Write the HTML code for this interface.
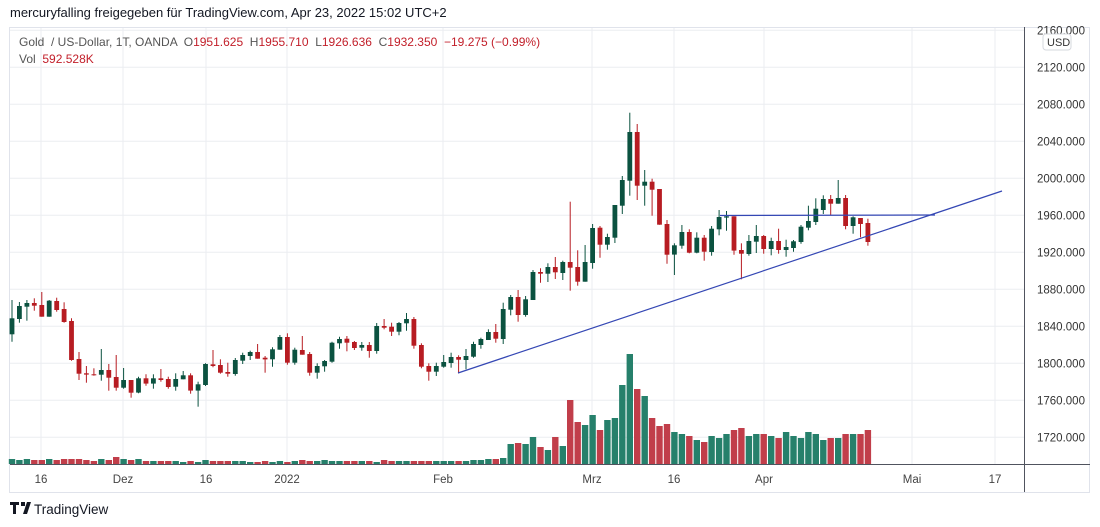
<!DOCTYPE html>
<html><head><meta charset="utf-8">
<style>
body{margin:0;background:#fff;width:1100px;height:527px;overflow:hidden;font-family:"Liberation Sans",sans-serif;}
svg{position:absolute;left:0;top:0}
text{white-space:pre}
</style></head><body>
<svg id="s" width="1100" height="527" xmlns="http://www.w3.org/2000/svg" font-family="Liberation Sans, sans-serif"></svg>
<script>
const S=document.getElementById('s');let h='';
h+='<rect x="9.5" y="27.5" width="1080" height="465" fill="none" stroke="#e0e3eb"/>';
const gx=[41,123,206,287,443,592,674,764,912,995];
gx.forEach(x=>h+=`<line x1="${x}" y1="28" x2="${x}" y2="464" stroke="#ebedf1"/>`);
const prices=[2160,2120,2080,2040,2000,1960,1920,1880,1840,1800,1760,1720];
prices.forEach((p,i)=>{const y=30.3+i*37;h+=`<line x1="10" y1="${y}" x2="1024" y2="${y}" stroke="#ebedf1"/>`;
h+=`<text x="1037" y="${y+4}" font-size="11.5" fill="#333">${p}.000</text>`;});
h+='<rect x="1043" y="34" width="28" height="16" rx="3" fill="#fff" stroke="#d6d8de"/><text x="1047" y="46" font-size="11" fill="#333">USD</text>';
const z1=[[115,163,60,185,1],[78,117,66,128,1],[69,80,60,122,1],[69,77,55,92,0],[75,110,36,110,0],[62,110,60,110,1],[63,90,53,95,0],[87,126,67,128,0],[123,240,115,242,0],[237,281,216,300,0],[280,284,258,308,0],[283,285,265,287,0],[270,284,207,302,1],[270,293,252,332,0],[291,323,225,332,0],[300,323,264,326,1],[300,338,300,353,0],[295,338,290,340,1],[295,311,283,317,0],[295,311,283,326,1],[295,300,267,305,0],[297,321,290,326,0],[297,320,280,332,1],[286,298,273,298,1],[286,332,280,341,0],[313,332,305,380,1],[252,315,250,318,1],[253,258,210,262,0],[255,278,238,281,0],[276,281,248,290,0],[240,282,234,287,1],[225,242,218,252,1],[216,228,212,240,1],[216,236,192,236,0],[233,238,228,278,0],[208,238,202,260,1],[171,209,165,209,1],[171,248,160,254,0],[209,248,203,254,1],[210,224,168,224,0],[222,278,216,287,0],[258,278,250,296,1],[243,259,240,275,1],[188,245,185,248,1],[177,190,170,206,1],[176,188,168,214,0],[186,204,183,210,0],[195,203,186,212,1],[195,213,186,233,0],[138,213,129,221,1],[138,143,117,148,0],[140,155,128,168,0],[129,155,126,166,1],[117,130,99,152,1],[117,197,111,206,0]];
const z2=[[735,800,730,805,0],[798,815,790,842,0],[798,815,788,828,1],[786,800,765,803,1],[771,789,758,803,1],[771,779,766,820,0],[768,780,747,808,1],[732,770,725,773,1],[717,735,713,746,1],[696,720,688,720,1],[696,716,672,728,0],[627,717,608,732,1],[591,629,585,646,1],[591,645,570,665,0],[598,645,588,650,1],[516,600,510,600,1],[516,521,505,548,0],[501,521,490,546,1],[501,517,471,537,0],[486,519,482,540,1],[486,503,305,572,0],[501,545,451,557,0],[486,545,435,545,1],[384,489,372,506,1],[383,434,378,473,0],[411,434,401,449,1],[315,413,315,429,1],[240,317,228,342,1],[96,242,38,287,1],[96,257,72,300,0],[245,257,210,317,1],[245,269,236,347,0],[267,374,267,374,0],[372,464,360,491,0],[436,464,430,525,1],[396,437,375,446,1],[396,458,388,460,0],[413,458,397,460,1],[413,455,405,482,0],[386,456,378,467,1],[351,388,330,406,1],[349,353,333,392,1],[349,452,349,464,0],[450,461,430,538,0],[423,462,405,467,1],[408,425,375,459,1],[408,447,405,461,0],[423,447,413,466,1],[423,450,386,461,0],[441,450,419,470,1],[424,444,420,455,1],[380,426,375,431,1],[363,383,317,391,1],[326,366,295,375,1],[297,330,286,342,1],[297,311,285,345,0],[294,311,240,311,1],[294,378,285,388,0],[352,378,349,401,1],[354,372,354,412,0],[369,426,356,437,0]];
const C=[];z1.forEach(c=>C.push([280+c[0]/3,280+c[1]/3,280+c[2]/3,280+c[3]/3,c[4]]));
z2.forEach(c=>C.push([100+c[0]/3,100+c[1]/3,100+c[2]/3,100+c[3]/3,c[4]]));
const vl=[[510,444],[518,443],[525,444],[532,437],[540,447],[547,450],[555,437],[562,446],[569,400],[577,422],[584,425],[591,415],[599,430],[606,420],[614,418],[621,385],[629,354],[636,389],[644,396],[651,418],[659,426],[666,424],[674,432],[681,434],[689,436],[696,440],[704,442],[711,436],[719,438],[726,434],[733,430],[741,428],[748,436],[756,434],[763,434],[770,436],[778,438],[785,432],[793,436],[800,438],[808,432],[815,434],[822,440],[830,438],[837,438],[845,434],[852,434],[860,434],[868,430]];
const V={};vl.forEach(v=>{V[Math.round((v[0]-12)/7.443)]=v[1];});
const early=[459,460,459,460,460,459,460,459,459,459,460,461,459,460,457,459,460,459,461,461,461,461,461,462,461,462,460,461,461,461,461,461,462,462,461,462,461,462,461,460,461,461,460,461,461,461,461,461,461,462,460,461,461,461,461,461,461,461,461,461,461,461,460,460,459,459];
let vh='',ch='';
C.forEach((c,i)=>{const x=12+i*7.443;const col=c[4]?'#0b5240':'#b71c22';const vcol=c[4]?'#26806b':'#c13e4a';
const vt=V[i]!==undefined?V[i]:(early[i]||458);
vh+=`<rect x="${(x-3.2).toFixed(1)}" y="${vt}" width="6.4" height="${464-vt}" fill="${vcol}"/>`;
ch+=`<line x1="${x.toFixed(1)}" y1="${c[2].toFixed(1)}" x2="${x.toFixed(1)}" y2="${c[3].toFixed(1)}" stroke="${col}" stroke-width="1"/>`;
ch+=`<rect x="${(x-2.4).toFixed(1)}" y="${c[0].toFixed(1)}" width="4.8" height="${Math.max(1,c[1]-c[0]).toFixed(1)}" fill="${col}"/>`;});
h+=vh+ch;
h+='<line x1="458" y1="373" x2="1002" y2="191" stroke="#3447b4" stroke-width="1.2"/>';
h+='<line x1="720" y1="215.5" x2="935" y2="215" stroke="#3447b4" stroke-width="1.2"/>';
h+='<line x1="1024.5" y1="27" x2="1024.5" y2="492" stroke="#50535e"/>';
h+='<line x1="10" y1="464.5" x2="1090" y2="464.5" stroke="#50535e"/>';
const xl=[[41,'16'],[123,'Dez'],[206,'16'],[287,'2022'],[443,'Feb'],[592,'Mrz'],[674,'16'],[764,'Apr'],[912,'Mai'],[995,'17']];
xl.forEach(l=>h+=`<text x="${l[0]}" y="483" font-size="11.5" fill="#444" text-anchor="middle">${l[1]}</text>`);
h+='<text x="10" y="17" font-size="13" fill="#131722">mercuryfalling freigegeben für TradingView.com, Apr 23, 2022 15:02 UTC+2</text>';
h+='<text x="19" y="46" font-size="12" fill="#555" xml:space="preserve"><tspan>Gold  / US-Dollar, 1T, OANDA  O</tspan><tspan fill="#c21f2a">1951.625</tspan><tspan>  H</tspan><tspan fill="#c21f2a">1955.710</tspan><tspan>  L</tspan><tspan fill="#c21f2a">1926.636</tspan><tspan>  C</tspan><tspan fill="#c21f2a">1932.350  −19.275 (−0.99%)</tspan></text>';
h+='<text x="19" y="63" font-size="12" fill="#555" xml:space="preserve">Vol  <tspan fill="#c21f2a">592.528K</tspan></text>';
h+='<path d="M10 502h9v3h-3v9h-3v-9h-3z M21 502h4v4h-4z M27 502h4l-4 12h-4z" fill="#131722"/>';
h+='<text x="34" y="514" font-size="13.5" fill="#131722">TradingView</text>';
S.innerHTML=h;
</script>
</body></html>
